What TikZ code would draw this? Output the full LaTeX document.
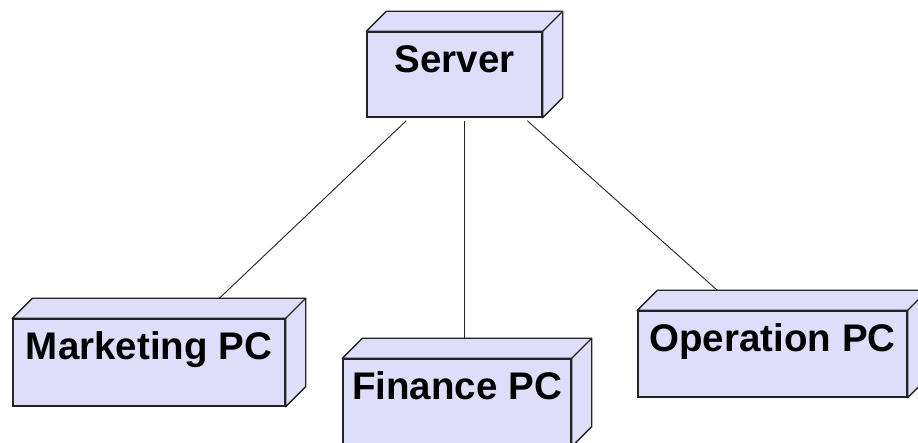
\documentclass[tikz,border=0pt]{standalone}
\usepackage{fontspec}
\setmainfont{Liberation Sans}
\usetikzlibrary{calc}
\definecolor{boxfill}{RGB}{222,222,250}
\definecolor{boxline}{RGB}{35,35,35}
\begin{document}
\begin{tikzpicture}[x=1pt,y=1pt,
  face/.style={draw=boxline, line width=1.4pt, fill=boxfill, rectangle, inner sep=0pt},
  depthface/.style={draw=boxline, line width=1.4pt, fill=boxfill, line join=round},
  lbl/.style={anchor=base, font=\fontsize{38.5}{40}\selectfont\bfseries, text=black, inner sep=0pt},
  wire/.style={draw=boxline, line width=0.9pt}]
\useasboundingbox (0,0) rectangle (918,443);
\clip (0,0) rectangle (918,443);
\fill[white] (0,0) rectangle (918,443);

% front faces
\node[face, minimum width=175, minimum height=85] (server) at (454.5,368.5) {};
\node[face, minimum width=272, minimum height=87] (mkt) at (149,80.5) {};
\node[face, minimum width=228, minimum height=87] (fin) at (457,40.5) {};
\node[face, minimum width=269, minimum height=86] (op) at (772.5,89) {};

% top and side faces
\foreach \n in {server,mkt,fin,op}{
  \filldraw[depthface] (\n.north west) -- ++(20,20) -- ($(\n.north east)+(20,20)$)
    -- ($(\n.south east)+(20,20)$) -- (\n.south east) -- (\n.north east) -- cycle;
  \draw[depthface] (\n.north east) -- ++(20,20);
}

% labels
\node[lbl] (serverlbl) at ($(server.north)+(0,-41)$) {Server};
\node[lbl] (mktlbl) at ($(mkt.north)+(0,-41)$) {Marketing PC};
\node[lbl] (finlbl) at ($(fin.north)+(0,-41)$) {Finance PC};
\node[lbl] (oplbl) at ($(op.north)+(0,-41)$) {Operation PC};

% connector end points
\coordinate (s1) at ($(server.south west)+(40,-3)$);
\coordinate (s2) at ($(server.south west)+(98,-3)$);
\coordinate (s3) at ($(server.south west)+(161,-3)$);
\coordinate (m1) at ($(mkt.north west)+(207,20)$);
\coordinate (f1) at ($(fin.north west)+(122,19)$);
\coordinate (o1) at ($(op.north west)+(80,20)$);

\draw[wire] (s1) -- (m1);
\draw[wire] (s2) -- (s2 |- f1);
\draw[wire] (s3) -- (o1);
\end{tikzpicture}
\end{document}
